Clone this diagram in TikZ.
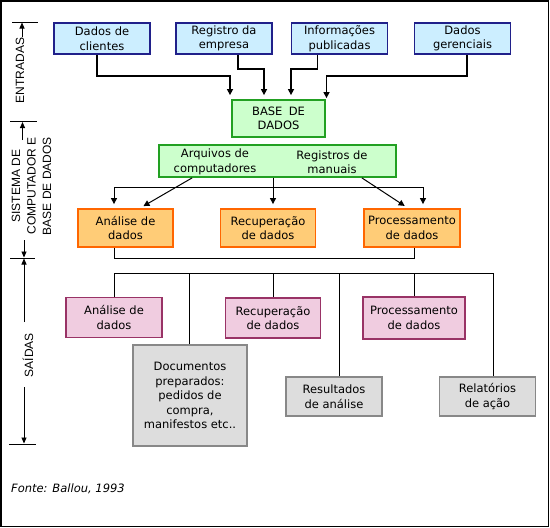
\documentclass[tikz,border=0pt]{standalone}
\usepackage{fontspec}
\setmainfont{DejaVu Sans}
\newfontfamily\arialf{Liberation Sans}
\usetikzlibrary{arrows.meta}
\definecolor{bfill}{RGB}{204,238,255}
\definecolor{bline}{RGB}{32,32,138}
\definecolor{gfill}{RGB}{204,255,204}
\definecolor{gline}{RGB}{34,160,34}
\definecolor{ofill}{RGB}{255,204,119}
\definecolor{oline}{RGB}{255,102,0}
\definecolor{pfill}{RGB}{240,204,224}
\definecolor{pline}{RGB}{153,51,102}
\definecolor{grfill}{RGB}{221,221,221}
\definecolor{grline}{RGB}{136,136,136}
\begin{document}
\begin{tikzpicture}[x=1pt,y=-1pt,
 box/.style={draw,line width=1.8pt,align=center,inner sep=1pt,font=\fontsize{11.5}{14.5}\selectfont},
 bluebox/.style={box,fill=bfill,draw=bline,minimum width=96pt,minimum height=31pt},
 greenbox/.style={box,fill=gfill,draw=gline},
 orbox/.style={box,fill=ofill,draw=oline,minimum width=95pt,minimum height=38pt},
 pkbox/.style={box,fill=pfill,draw=pline,minimum height=40pt},
 grbox/.style={box,fill=grfill,draw=grline},
 txt/.style={align=center,inner sep=0pt,font=\fontsize{11.5}{14.5}\selectfont},
 arr/.style={-{Triangle[length=6pt,width=6pt]},line width=1.4pt,shorten >=4pt},
 arr2/.style={-{Triangle[length=6pt,width=6pt]},line width=1pt,shorten >=4pt},
 conn/.style={line width=1pt},
 side/.style={font=\arialf\fontsize{12}{15.5}\selectfont,align=center,rotate=90,inner sep=0pt},
 sidearr/.style={-{Triangle[length=6pt,width=5pt]},line width=0.8pt},
 tick/.style={line width=0.8pt},
]
\useasboundingbox (0,0) rectangle (550,528);
\draw[line width=1.2pt] (1,1) rectangle (548.5,526.5);

% inputs
\node[bluebox] (cli) at (102,38.5) {Dados de\\clientes};
\node[bluebox] (reg) at (224,38.5) {Registro da\\empresa};
\node[bluebox] (inf) at (339.5,38.5) {Informações\\publicadas};
\node[bluebox] (ger) at (462.5,38.5) {Dados\\gerenciais};

% database
\node[greenbox,minimum width=93pt,minimum height=37pt] (base) at (278.5,118.5) {BASE\hspace{0.55em}DE\\DADOS};
\node[greenbox,minimum width=237pt,minimum height=32pt] (sys) at (277.5,161) {};
\node[txt] (arq) at (215,162) {Arquivos de\\computadores};
\node[txt] (rm) at (332,162) {Registros de\\manuais};

% processing
\node[orbox] (ana) at (125.5,228) {Análise de\\dados};
\node[orbox] (rec) at (268,228) {Recuperação\\de dados};
\node[orbox,minimum width=96pt] (proc) at (412,228) {Processamento\\de dados};

% outputs
\node[pkbox,minimum width=96pt] (pa) at (114,317.5) {Análise de\\dados};
\node[pkbox,minimum width=95pt] (pr) at (273,318) {Recuperação\\de dados};
\node[pkbox,minimum width=102pt,minimum height=42pt] (pp) at (414,318) {Processamento\\de dados};
\node[grbox,minimum width=114pt,minimum height=101pt] (doc) at (190,395.5) {Documentos\\preparados:\\pedidos de\\compra,\\manifestos etc..};
\node[grbox,minimum width=96pt,minimum height=39pt] (res) at (334,396.5) {Resultados\\de análise};
\node[grbox,minimum width=96pt,minimum height=39pt] (rel) at (487.5,396.5) {Relatórios\\de ação};

% input connectors
\draw[arr] ([xshift=-5pt]cli.south) -- ++(0,21) -| ([xshift=-48.5pt]base.north);
\draw[arr] ([xshift=14pt]reg.south) -- ++(0,14) -| ([xshift=-14.5pt]base.north);
\draw[arr] ([xshift=-22pt]inf.south) -- ++(0,14) -| ([xshift=12.5pt]base.north);
\draw[arr,shorten >=1pt] ([xshift=4.5pt]ger.south) -- ++(0,21) -| ([xshift=48pt]base.north);

% database to processing
\coordinate (hL) at (114,187);
\coordinate (hR) at (423,187);
\draw[conn] (hL) -- (hR);
\draw[arr2] ([xshift=-4.5pt]sys.south) -- ([xshift=5pt]rec.north);
\draw[arr2] (hL) -- (hL |- ana.north);
\draw[arr2] (hR) -- (hR |- proc.north);
\draw[arr2] ([xshift=34pt]sys.south west) -- ([xshift=14.5pt]ana.north);
\draw[arr2] ([xshift=-35pt]sys.south east) -- ([xshift=-4pt]proc.north);
\draw[conn] ([xshift=-11.5pt]ana.south) -- ++(0,11) -| ([xshift=2pt]proc.south);

% output bus
\coordinate (bL) at (114,273);
\coordinate (bR) at (493,273);
\draw[conn] (pa.north) -- (bL) -- (bR) -- (bR |- rel.north);
\draw[conn] ([xshift=-1pt]doc.north) |- (bL);
\draw[conn] (pr.north) |- (bL);
\draw[conn] ([xshift=5pt]res.north) |- (bL);
\draw[conn] (pp.north) |- (bL);

% side labels
\draw[tick] (12,22) -- (38,22);
\draw[sidearr] (22,37) -- (22,22.5);
\node[side] (lent) at (20,70.5) {ENTRADAS};
\draw[tick] (10,121.5) -- (37,121.5);
\draw[sidearr] (22.5,140) -- (22.5,122);
\node[side] (lsys) at (31.5,186) {SISTEMA DE\\COMPUTADOR E\\BASE DE DADOS};
\draw[sidearr] (24,240) -- (24,257.5);
\draw[tick] (10,258) -- (35,258);
\draw[sidearr] (24,322) -- (24,258.5);
\node[side] (lsai) at (28,355) {SAÍDAS};
\draw[sidearr] (24,387) -- (24,443.5);
\draw[tick] (9,444) -- (36,444);

\node[anchor=west,inner sep=0pt,font=\fontsize{11.5}{14}\selectfont\itshape] (fonte) at (11,489) {Fonte: Ballou, 1993};
\end{tikzpicture}
\end{document}
